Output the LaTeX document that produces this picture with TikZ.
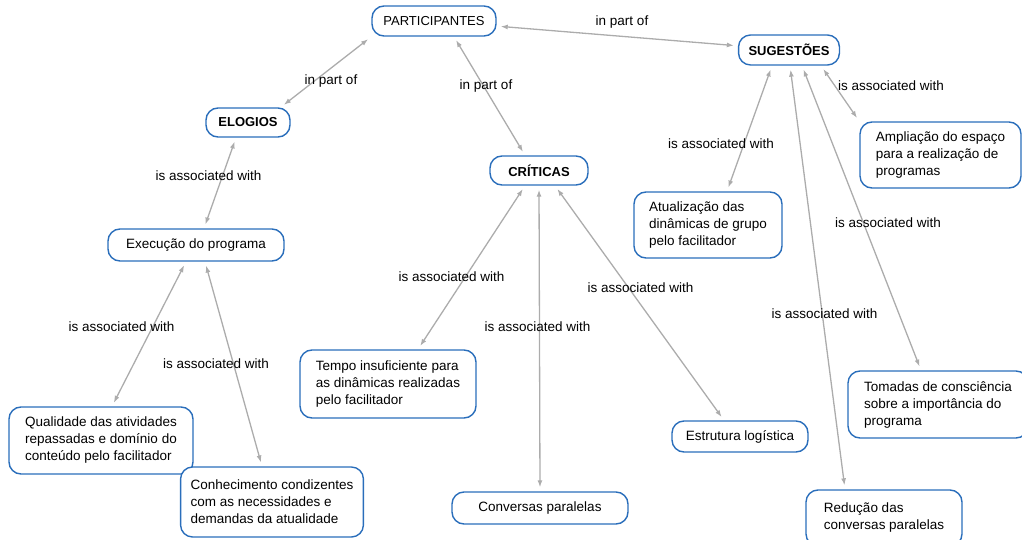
\documentclass[tikz,border=0pt]{standalone}
\usepackage{fontspec}
\setmainfont{Liberation Sans}
\usetikzlibrary{arrows.meta}
\definecolor{cmapblue}{RGB}{42,110,187}
\definecolor{linkgray}{RGB}{172,172,172}

\begin{document}
\begin{tikzpicture}[x=1pt,y=-1pt,
    concept/.style={draw=cmapblue,line width=1.4pt,fill=white,rounded corners=12pt,
      inner xsep=10pt,inner ysep=0pt,align=left,font=\fontsize{13.5}{17}\selectfont},
    title/.style={concept,align=center,minimum height=30pt,font=\fontsize{13}{16}\selectfont},
    link/.style={draw=linkgray,line width=1.3pt,
      {Latex[length=7pt,width=5pt]}-{Latex[length=7pt,width=5pt]},
      shorten <=4pt,shorten >=4pt},
    phrase/.style={inner sep=0pt,font=\fontsize{13.5}{17}\selectfont}]

  \useasboundingbox (0,0) rectangle (1022,540);

  % concepts
  \node[title,minimum width=124pt] (part) at (434,21) {PARTICIPANTES};
  \node[title,minimum width=98pt] (sug) at (789,50) {\bfseries SUGESTÕES};
  \node[title,minimum width=84pt,minimum height=29pt] (elo) at (248,122.5) {\bfseries ELOGIOS};
  \node[title,minimum width=98pt,minimum height=29pt] (cri) at (539,170.5) {\bfseries CRÍTICAS};
  \node[concept,align=center,minimum width=176pt,minimum height=32pt] (exe) at (196,245) {Execução do programa};
  \node[concept,minimum width=148pt,minimum height=66pt] (atu) at (708,225) {Atualização das\\dinâmicas de grupo\\pelo facilitador};
  \node[concept,minimum width=161pt,minimum height=66pt] (amp) at (940.5,155) {Ampliação do espaço\\para a realização de\\programas};
  \node[concept,minimum width=176pt,minimum height=68pt] (tem) at (388,384) {Tempo insuficiente para\\as dinâmicas realizadas\\pelo facilitador};
  \node[concept,minimum width=184pt,minimum height=67pt] (qua) at (101,440.5) {Qualidade das atividades\\repassadas e domínio do\\conteúdo pelo facilitador};
  \node[concept,minimum width=168pt,minimum height=70pt] (con) at (272,502) {Conhecimento condizentes\\com as necessidades e\\demandas da atualidade};
  \node[concept,align=center,minimum width=176pt,minimum height=32pt] (conv) at (540,508) {Conversas paralelas};
  \node[concept,align=center,minimum width=136pt,minimum height=31pt] (est) at (740,436.5) {Estrutura logística};
  \node[concept,minimum width=180pt,minimum height=67pt] (tom) at (938,404.5) {Tomadas de consciência\\sobre a importância do\\programa};
  \node[concept,minimum width=156pt,minimum height=56pt] (red) at (884,518) {Redução das\\conversas paralelas};

  % links
  \begin{scope}[link]
    \draw (part) to (sug);
    \draw (part.south west) to ([xshift=-10pt]elo.north east);
    \draw ([xshift=20pt]part.south) to ([xshift=-14pt]cri.north);
    \draw ([xshift=-12pt]elo.south) to ([xshift=8pt]exe.north);
    \draw ([xshift=-10pt]exe.south) to ([xshift=11pt]qua.north);
    \draw ([xshift=9pt]exe.south) to ([xshift=-10pt]con.north);
    \draw ([xshift=-14pt]cri.south) to ([xshift=30pt]tem.north);
    \draw (cri.south) to (conv.north);
    \draw ([xshift=16pt]cri.south) to ([xshift=-16pt]est.north);
    \draw ([xshift=-17pt]sug.south) to ([xshift=19pt]atu.north);
    \draw ([xshift=32pt]sug.south) to (amp.north west);
    \draw ([xshift=13pt]sug.south) to ([xshift=-17pt]tom.north);
    \draw ([xshift=1pt]sug.south) to ([xshift=-39pt]red.north);
  \end{scope}

  % linking phrases
  \node[phrase] (p1) at (331,81) {in part of};
  \node[phrase] (p2) at (486,86) {in part of};
  \node[phrase] (p3) at (622,22) {in part of};
  \node[phrase] (p4) at (208.5,176) {is associated with};
  \node[phrase] (p5) at (121.5,327) {is associated with};
  \node[phrase] (p6) at (216,364) {is associated with};
  \node[phrase] (p7) at (451.5,277) {is associated with};
  \node[phrase] (p8) at (537.5,327) {is associated with};
  \node[phrase] (p9) at (640.5,288) {is associated with};
  \node[phrase] (p10) at (721,144) {is associated with};
  \node[phrase] (p11) at (891,86) {is associated with};
  \node[phrase] (p12) at (888,223) {is associated with};
  \node[phrase] (p13) at (824.5,314) {is associated with};
\end{tikzpicture}
\end{document}
